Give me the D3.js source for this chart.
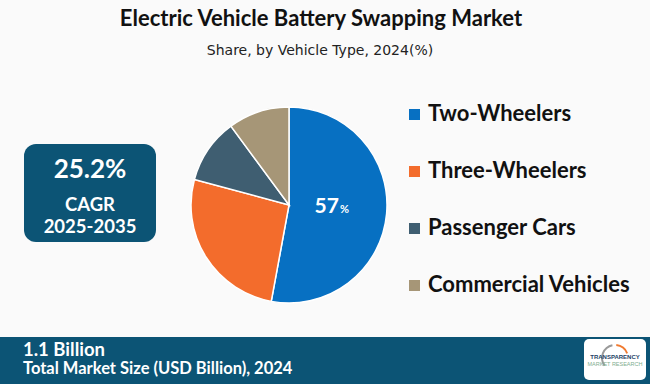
<!DOCTYPE html>
<html>
<head>
<meta charset="utf-8">
<script src="https://cdn.jsdelivr.net/npm/d3@7"></script>
<style>
  html, body { margin: 0; padding: 0; background: #fafafa; }
  svg { display: block; }
</style>
</head>
<body>
<div id="chart"></div>
<script>
// data
const categories = ['Two-Wheelers', 'Three-Wheelers', 'Passenger Cars', 'Commercial Vehicles'];
const shares = [52.9, 26.3, 10.7, 10.1];
const sliceLabels = ['57', null, null, null]; // printed label, as in the source
const colors = ['#0770c2', '#f36c2c', '#3f5e71', '#a69677'];

const title = 'Electric Vehicle Battery Swapping Market';
const subtitle = 'Share, by Vehicle Type, 2024(%)';
const cagrValue = '25.2%';
const cagrLabel = 'CAGR';
const cagrPeriod = '2025-2035';
const marketSize = '1.1 Billion';
const marketSizeLabel = 'Total Market Size (USD Billion), 2024';

const width = 650;
const height = 384;
const navy = '#0c5475';

const svg = d3.select('#chart')
    .append('svg')
    .attr('width', width)
    .attr('height', height);

svg.append('rect').attr('width', width).attr('height', height).attr('fill', '#fafafa');

// titles
svg.append('text')
    .attr('x', 321).attr('y', 26)
    .attr('text-anchor', 'middle')
    .style('font-family', 'Lato, sans-serif')
    .style('font-weight', '700')
    .style('font-size', '22px')
    .attr('fill', '#111')
    .text(title);

svg.append('text')
    .attr('x', 320).attr('y', 55)
    .attr('text-anchor', 'middle')
    .style('font-family', '"DejaVu Sans", sans-serif')
    .style('font-size', '14px')
    .attr('fill', '#222')
    .text(subtitle);

// CAGR box
const box = svg.append('g');
box.append('rect')
    .attr('x', 24).attr('y', 144)
    .attr('width', 132).attr('height', 98)
    .attr('rx', 12)
    .attr('fill', navy);

box.append('text')
    .attr('x', 90).attr('y', 178)
    .attr('text-anchor', 'middle')
    .style('font-family', 'Lato, sans-serif')
    .style('font-weight', '700')
    .style('font-size', '26px')
    .attr('fill', '#fff')
    .text(cagrValue);

box.append('text')
    .attr('x', 90).attr('y', 211)
    .attr('text-anchor', 'middle')
    .style('font-family', 'Lato, sans-serif')
    .style('font-weight', '700')
    .style('font-size', '18.5px')
    .attr('fill', '#fff')
    .text(cagrLabel);

box.append('text')
    .attr('x', 90).attr('y', 233)
    .attr('text-anchor', 'middle')
    .style('font-family', 'Lato, sans-serif')
    .style('font-weight', '700')
    .style('font-size', '18.5px')
    .attr('fill', '#fff')
    .text(cagrPeriod);

// pie
const cx = 289, cy = 205, radius = 98;
const data = categories.map((c, i) => ({ name: c, value: shares[i], label: sliceLabels[i], color: colors[i] }));

const pie = d3.pie().sort(null).value(d => d.value);
const arc = d3.arc().innerRadius(0).outerRadius(radius);
const labelArc = d3.arc().innerRadius(radius * 0.5).outerRadius(radius * 0.5);

const g = svg.append('g').attr('transform', `translate(${cx},${cy})`);

const arcs = pie(data);

g.selectAll('path')
    .data(arcs)
    .join('path')
    .attr('d', arc)
    .attr('fill', d => d.data.color)
    .attr('stroke', '#fff')
    .attr('stroke-width', 1.5);

const lbl = g.selectAll('text.slice')
    .data(arcs.filter(d => d.data.label))
    .join('text')
    .attr('class', 'slice')
    .attr('transform', d => {
        const [x, y] = labelArc.centroid(d);
        return `translate(${x - 6},${y + 4})`;
    })
    .attr('text-anchor', 'middle')
    .style('font-family', 'Lato, sans-serif')
    .style('font-weight', '700')
    .attr('fill', '#fff');

lbl.append('tspan').style('font-size', '21px').text(d => d.data.label);
lbl.append('tspan').style('font-size', '11px').attr('dx', 1).text('%');

// legend
const legend = svg.append('g').attr('transform', 'translate(409,0)');
const legendY = d3.scalePoint().domain(categories).range([121, 292]);

const item = legend.selectAll('g')
    .data(data)
    .join('g')
    .attr('transform', d => `translate(0,${legendY(d.name)})`);

item.append('rect')
    .attr('x', 0).attr('y', -12)
    .attr('width', 11).attr('height', 11)
    .attr('fill', d => d.color);

item.append('text')
    .attr('x', 19).attr('y', 0)
    .style('font-family', 'Lato, sans-serif')
    .style('font-weight', '700')
    .style('font-size', '22px')
    .attr('fill', '#111')
    .text(d => d.name);

// bottom bar
svg.append('rect')
    .attr('x', 0).attr('y', 337)
    .attr('width', width).attr('height', height - 337)
    .attr('fill', navy);

svg.append('text')
    .attr('x', 23).attr('y', 356)
    .style('font-family', 'Lato, sans-serif')
    .style('font-weight', '700')
    .style('font-size', '18.5px')
    .attr('fill', '#fff')
    .text(marketSize);

svg.append('text')
    .attr('x', 23).attr('y', 374)
    .style('font-family', 'Lato, sans-serif')
    .style('font-weight', '700')
    .style('font-size', '16.5px')
    .attr('fill', '#fff')
    .text(marketSizeLabel);

// logo badge
const logo = svg.append('g').attr('transform', 'translate(584,339)');
logo.append('rect')
    .attr('width', 62).attr('height', 41)
    .attr('rx', 5)
    .attr('fill', '#fff');

const swoosh = d3.arc().innerRadius(12).outerRadius(14);
logo.append('path')
    .attr('transform', 'translate(31,19)')
    .attr('d', swoosh({ startAngle: -2.2, endAngle: -0.2 }))
    .attr('fill', '#9a9a9a');
logo.append('path')
    .attr('transform', 'translate(31,19)')
    .attr('d', swoosh({ startAngle: 0.1, endAngle: 1.2 }))
    .attr('fill', '#f07a30');

logo.append('text')
    .attr('x', 31).attr('y', 20)
    .attr('text-anchor', 'middle')
    .style('font-family', '"Liberation Sans", sans-serif')
    .style('font-weight', '700')
    .style('font-size', '6px')
    .attr('fill', '#1d3f66')
    .text('TRANSPARENCY');

logo.append('text')
    .attr('x', 31).attr('y', 27)
    .attr('text-anchor', 'middle')
    .style('font-family', '"Liberation Sans", sans-serif')
    .style('font-size', '5.5px')
    .attr('fill', '#7fae8f')
    .text('MARKET RESEARCH');
</script>
</body>
</html>
